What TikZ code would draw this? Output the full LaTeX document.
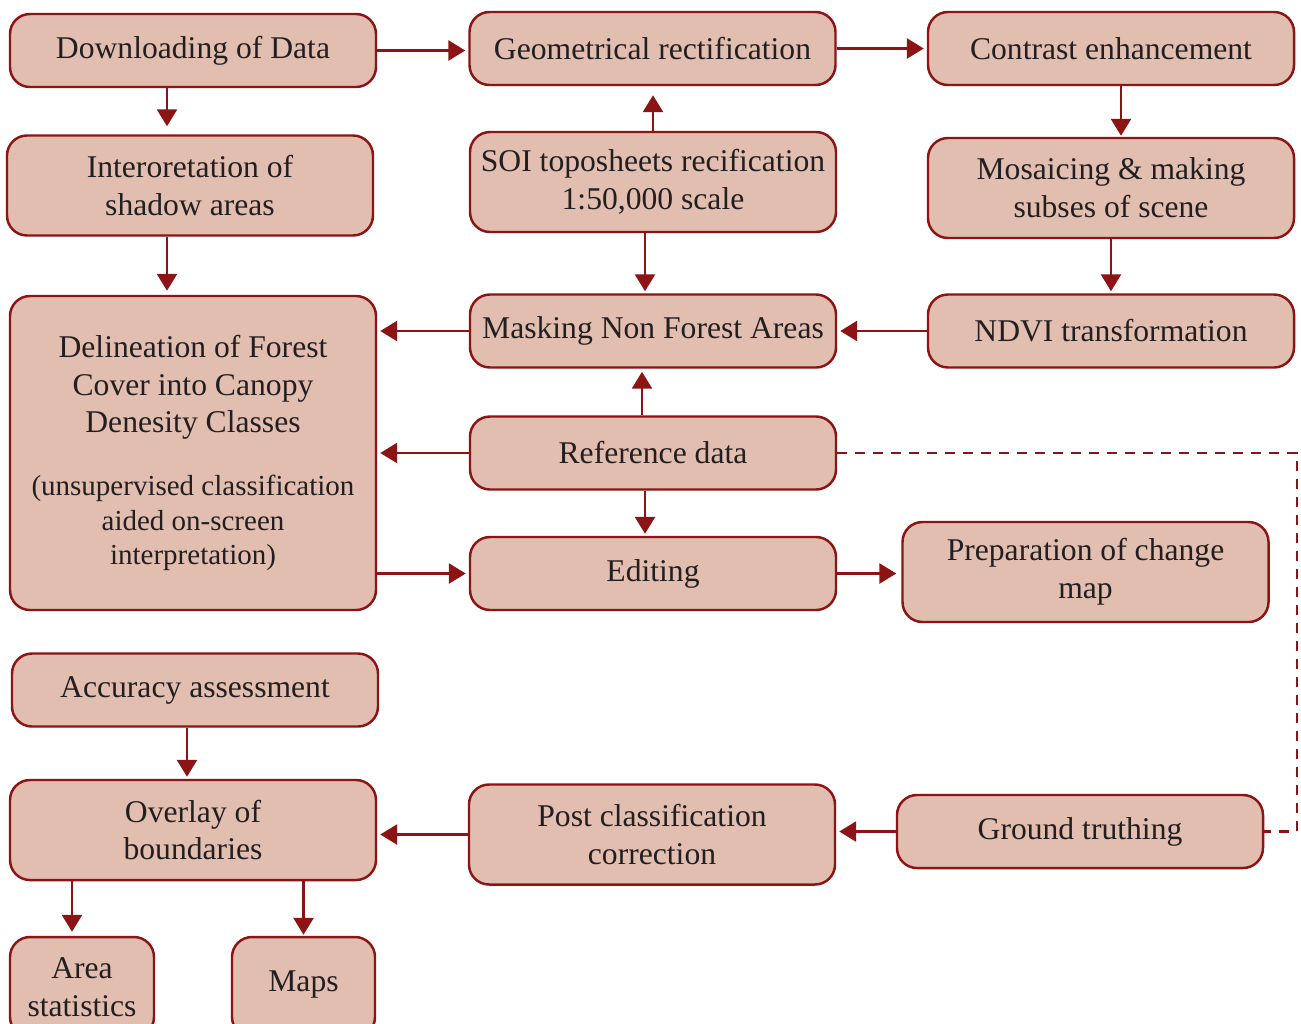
\documentclass[tikz,border=0pt]{standalone}
\usepackage{fontspec}
\setmainfont{Liberation Serif}
\usepackage{xcolor}
\definecolor{BoxFill}{HTML}{E1BEB0}
\definecolor{BoxLine}{HTML}{8C1414}
\definecolor{InkGray}{HTML}{231F20}
\usepackage{tikz}
\usetikzlibrary{arrows.meta,positioning}

\newcommand{\notefont}{\fontsize{16.5}{19.8}\selectfont}

\tikzset{
  stage/.style={draw=BoxLine, fill=BoxFill, line width=1.4pt, rounded corners=0.4cm,
    minimum width=7.32cm, minimum height=1.46cm, inner sep=0pt, align=center,
    text=InkGray, font=\fontsize{18}{21.5}\selectfont},
  tallstage/.style={stage, minimum height=2cm},
  flow/.style={draw=BoxLine, line width=1.6pt, shorten >=0.06cm,
    -{Triangle[length=0.34cm,width=0.4cm]}},
  dashlink/.style={draw=BoxLine, line width=1.2pt, dash pattern=on 0.2cm off 0.16cm}
}

\begin{document}
\begin{tikzpicture}
    \clip (0,0) rectangle (26.02,-20.46);
    \useasboundingbox (0,0) rectangle (26.02,-20.46);
    % top row
    \node[stage] (dl) at (3.86,-1.01) {Downloading of Data};
    \node[stage] (geo) at (13.05,-0.97) {Geometrical rectification};
    \node[stage] (con) at (22.22,-0.97) {Contrast enhancement};
    % second row
    \node[tallstage] (intp) at (3.80,-3.71) {Interoretation of\\shadow areas};
    \node[tallstage] (soi) at (13.06,-3.64) {SOI toposheets recification\\1:50,000 scale};
    \node[tallstage] (mos) at (22.22,-3.76) {Mosaicing \& making\\subses of scene};
    % middle block
    \node[stage, minimum height=6.28cm] (del) at (3.86,-9.06)
      {Delineation of Forest\\Cover into Canopy\\Denesity Classes\\[14pt]
       \notefont (unsupervised classification\\[-1.7pt]\notefont aided on-screen\\[-1.7pt]\notefont interpretation)};
    \node[stage] (mask) at (13.06,-6.62) {Masking Non Forest Areas};
    \node[stage] (ndvi) at (22.22,-6.62) {NDVI transformation};
    \node[stage] (ref) at (13.06,-9.06) {Reference data};
    \node[stage] (edit) at (13.06,-11.47) {Editing};
    \node[tallstage] (prep) at (21.71,-11.44) {Preparation of change\\map};
    % lower block
    \node[stage] (acc) at (3.90,-13.80) {Accuracy assessment};
    \node[tallstage] (ovl) at (3.86,-16.60) {Overlay of\\boundaries};
    \node[tallstage] (post) at (13.04,-16.69) {Post classification\\correction};
    \node[stage] (grd) at (21.60,-16.63) {Ground truthing};
    \node[tallstage, minimum width=2.88cm] (area) at (1.64,-19.74) {Area\\statistics};
    \node[tallstage, minimum width=2.86cm] (maps) at (6.07,-19.74) {\raisebox{0.22cm}{Maps}};

    % connectors
    \draw[flow] (dl.east) -- (dl.east -| geo.west);
    \draw[flow] (geo.east) -- (con.west);
    \draw[flow, shorten >=0.16cm] ([xshift=-0.52cm]dl.south) -- ([xshift=-0.52cm]dl.south |- intp.north);
    \draw[flow, shorten >=0.18cm] (soi.north) -- (soi.north |- geo.south);
    \draw[flow, shorten >=0.02cm] ([xshift=0.2cm]con.south) -- ([xshift=0.2cm]con.south |- mos.north);
    \draw[flow, shorten >=0.08cm] ([xshift=-0.46cm]intp.south) -- ([xshift=-0.46cm]intp.south |- del.north);
    \draw[flow, shorten >=0.04cm] ([xshift=-0.16cm]soi.south) -- ([xshift=-0.16cm]soi.south |- mask.north);
    \draw[flow, shorten >=0.04cm] (mos.south) -- (mos.south |- ndvi.north);
    \draw[flow] (ndvi.west) -- (ndvi.west -| mask.east);
    \draw[flow] (mask.west) -- (mask.west -| del.east);
    \draw[flow] ([xshift=-0.22cm]ref.north) -- ([xshift=-0.22cm]ref.north |- mask.south);
    \draw[flow] (ref.west) -- (ref.west -| del.east);
    \draw[flow, shorten >=0.04cm] ([xshift=-0.16cm]ref.south) -- ([xshift=-0.16cm]ref.south |- edit.north);
    \draw[flow] (edit.west -| del.east) -- (edit.west);
    \draw[flow, shorten >=0.1cm] (edit.east) -- (edit.east -| prep.west);
    \coordinate (dashbend) at (25.94,-9.06);
    \draw[dashlink] (ref.east) -- (dashbend) -- (dashbend |- grd.east) -- (grd.east);
    \draw[flow, shorten >=0.04cm] ([xshift=-0.16cm]acc.south) -- ([xshift=-0.16cm]acc.south |- ovl.north);
    \draw[flow] (post.west) -- (post.west -| ovl.east);
    \draw[flow] (grd.west) -- (grd.west -| post.east);
    \draw[flow, shorten >=0.08cm] ([xshift=-0.2cm]area.north |- ovl.south) -- ([xshift=-0.2cm]area.north);
    \draw[flow, shorten >=0.02cm] (maps.north |- ovl.south) -- (maps.north);
\end{tikzpicture}
\end{document}
